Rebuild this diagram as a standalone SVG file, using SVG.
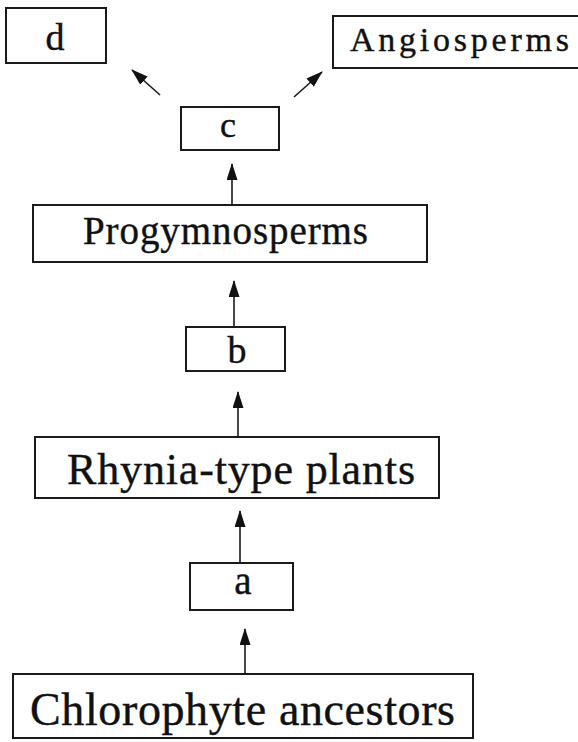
<svg xmlns="http://www.w3.org/2000/svg" width="578" height="742" viewBox="0 0 578 742">
  <style>
    .box { fill: #ffffff; stroke: #1a1a1a; stroke-width: 2; }
    .lbl { font-family: "Liberation Serif", "Times New Roman", serif; fill: #111111; stroke: #111111; stroke-width: 0.4; }
    .mid { text-anchor: middle; }
    .edge { stroke: #1a1a1a; stroke-width: 1.6; fill: none; marker-end: url(#head); }
  </style>
  <defs>
    <marker id="head" viewBox="0 0 17 11" refX="16" refY="5.5" markerWidth="17" markerHeight="11" markerUnits="userSpaceOnUse" orient="auto">
      <path d="M0,0 L17,5.5 L0,11 Z" fill="#111111"/>
    </marker>
  </defs>
  <rect width="578" height="742" fill="#ffffff"/>

  <g id="connectors">
    <line class="edge" x1="160" y1="95" x2="132" y2="70"/>
    <line class="edge" x1="294" y1="97" x2="322" y2="72"/>
    <line class="edge" x1="232" y1="205" x2="232" y2="164"/>
    <line class="edge" x1="234" y1="327" x2="234" y2="281"/>
    <line class="edge" x1="238" y1="437" x2="238" y2="392"/>
    <line class="edge" x1="240" y1="563" x2="240" y2="511"/>
    <line class="edge" x1="245" y1="674" x2="245" y2="629"/>
  </g>

  <g id="node-d">
    <rect class="box" x="6" y="8" width="100" height="55"/>
    <text class="lbl mid" x="55" y="50" font-size="38">d</text>
  </g>

  <g id="node-angiosperms">
    <rect class="box" x="333" y="16" width="250" height="52"/>
    <text class="lbl" x="350" y="51" font-size="34" textLength="219" lengthAdjust="spacing">Angiosperms</text>
  </g>

  <g id="node-c">
    <rect class="box" x="181" y="107" width="98" height="43"/>
    <text class="lbl mid" x="228" y="137" font-size="36">c</text>
  </g>

  <g id="node-progymnosperms">
    <rect class="box" x="33" y="205" width="394" height="57"/>
    <text class="lbl" x="83" y="244" font-size="39" textLength="285" lengthAdjust="spacing">Progymnosperms</text>
  </g>

  <g id="node-b">
    <rect class="box" x="186" y="327" width="99" height="44"/>
    <text class="lbl mid" x="237" y="363" font-size="38">b</text>
  </g>

  <g id="node-rhynia">
    <rect class="box" x="35" y="437" width="404" height="61"/>
    <text class="lbl" x="67" y="484" font-size="44" textLength="348" lengthAdjust="spacing">Rhynia-type plants</text>
  </g>

  <g id="node-a">
    <rect class="box" x="190" y="563" width="103" height="47"/>
    <text class="lbl mid" x="243" y="594" font-size="39">a</text>
  </g>

  <g id="node-chlorophyte">
    <rect class="box" x="13" y="674" width="460" height="64"/>
    <text class="lbl" x="30" y="725" font-size="46" textLength="425" lengthAdjust="spacing">Chlorophyte ancestors</text>
  </g>
</svg>
